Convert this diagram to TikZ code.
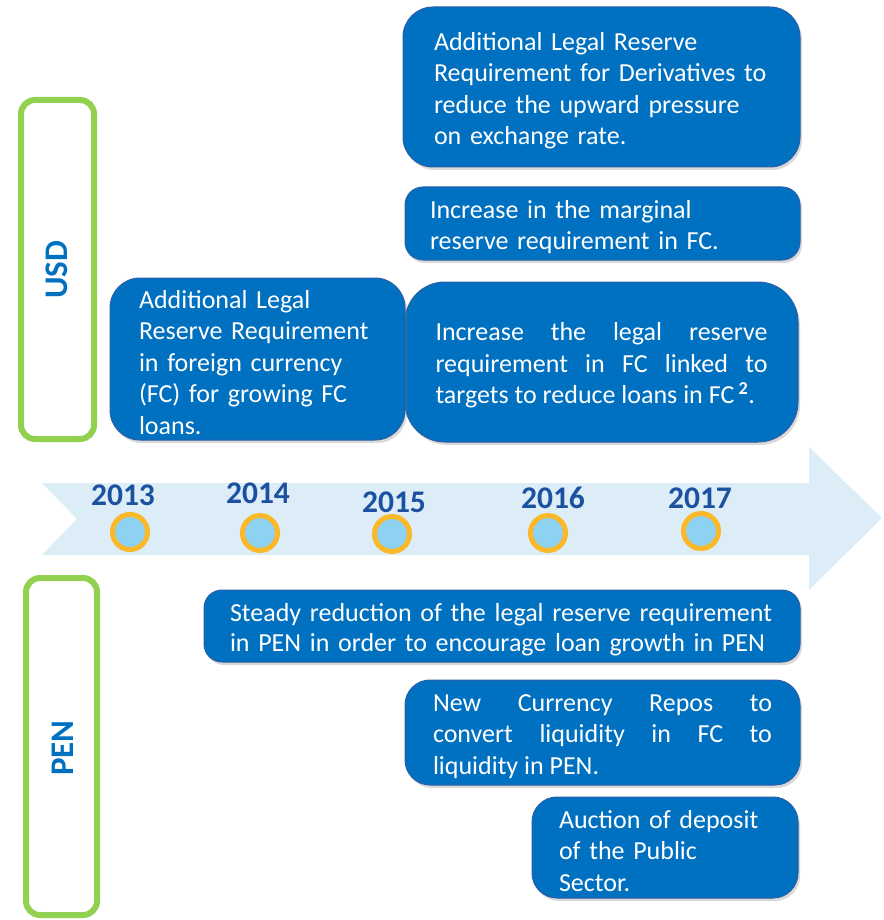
\documentclass[tikz,border=0pt]{standalone}
\usepackage{fontspec}
\setmainfont{Carlito}
\usetikzlibrary{shadows}

\definecolor{azulcaja}{HTML}{0070C0}
\definecolor{bordecaja}{HTML}{2A5EA6}
\definecolor{azulflecha}{HTML}{DCEDF8}
\definecolor{azulanio}{HTML}{1B51A0}
\definecolor{verdemarco}{HTML}{92D050}
\definecolor{naranja}{HTML}{FBB829}
\definecolor{celeste}{HTML}{8DD2F1}

\tikzset{
  caja/.style={draw=bordecaja, fill=azulcaja, text=white, line width=1pt,
    rounded corners=#1, inner ysep=0pt,
    font=\fontsize{26}{31.5}\selectfont,
    execute at begin node={\rule{0pt}{25pt}},
    drop shadow={opacity=0.3, shadow xshift=2pt, shadow yshift=-3pt}},
  caja/.default=30pt,
  marco/.style={draw=verdemarco, line width=6pt, rounded corners=14pt},
  moneda/.style={text=azulcaja, rotate=90,
    font=\fontsize{33}{38}\selectfont\bfseries},
  anio/.style={text=azulanio, font=\fontsize{31.5}{36}\selectfont\bfseries},
  hito/.style={circle, draw=naranja, fill=celeste, line width=5pt,
    minimum size=35pt, inner sep=0pt}
}

\begin{document}
\begin{tikzpicture}[x=1pt, y=-1pt]
    \useasboundingbox (0,0) rectangle (883,920);

    % Flecha de la línea de tiempo
    \fill[azulflecha] (42,483) -- (809,483) -- (809,447) -- (882,518)
        -- (809,590) -- (809,555) -- (42,555) -- (77,519) -- cycle;

    % Años e hitos
    \foreach \anio/\xa/\ya/\xc/\yc in {2013/123/495/130/532, 2014/258/493/260/533,
        2015/394/502/392/534, 2016/553/498/548/533, 2017/700/498/701/531} {
        \node[anio] (a\anio) at (\xa,\ya) {\anio};
        \node[hito] (h\anio) at (\xc,\yc) {};
    }

    % Marcos de moneda
    \draw[marco] (21,100) rectangle (94,439);
    \node[moneda] (usd) at (57,270) {USD};
    \draw[marco] (26,578) rectangle (97,915);
    \node[moneda] (pen) at (63,748) {PEN};

    % Medidas en dólares (arriba)
    \node[caja, minimum width=397pt, minimum height=160pt, text width=335pt,
          align=left] (derivados) at (601.5,87)
        {Additional Legal Reserve\\Requirement for Derivatives to\\reduce the upward pressure\\on exchange rate.};
    \node[caja=18pt, minimum width=395pt, minimum height=73pt, text width=345pt,
          align=left] (marginal) at (602.5,223.5)
        {Increase in the marginal\\reserve requirement in FC.};
    \node[caja=40pt, minimum width=393pt, minimum height=160pt, text width=332pt,
          align=justify] (metas) at (601.5,362)
        {Increase the legal reserve\linebreak requirement in FC linked to\linebreak targets to reduce loans in FC\,\textsuperscript{\textbf{2}}.};
    \node[caja, minimum width=295pt, minimum height=162pt, text width=237pt,
          align=left] (adicional) at (257.5,359)
        {Additional Legal\\Reserve Requirement\\in foreign currency\\(FC) for growing FC\\loans.};

    % Medidas en soles (abajo)
    \node[caja=18pt, minimum width=596pt, minimum height=72pt, text width=544pt,
          align=left, font=\fontsize{26}{29.5}\selectfont] (reduccion) at (502,626)
        {Steady reduction of the legal reserve requirement\\in PEN in order to encourage loan growth in PEN};
    \node[caja=25pt, minimum width=395pt, minimum height=105pt, text width=339pt,
          align=justify] (repos) at (602.5,732.5)
        {New Currency Repos to\linebreak convert liquidity in FC to\linebreak liquidity in PEN.};
    \node[caja=25pt, minimum width=266pt, minimum height=101pt, text width=212pt,
          align=left] (subasta) at (665,847.5)
        {Auction of deposit\\of the Public\\Sector.};
\end{tikzpicture}
\end{document}
